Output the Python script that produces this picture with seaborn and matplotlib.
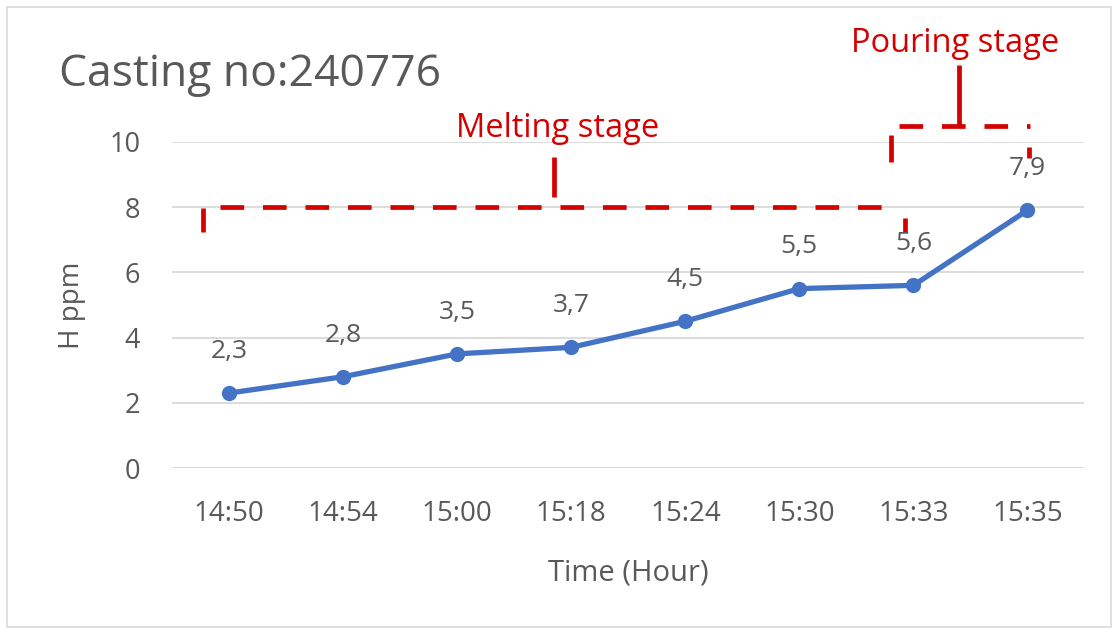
import numpy as np
import pandas as pd
import matplotlib
matplotlib.use("Agg")
import matplotlib.pyplot as plt
from matplotlib.patches import Rectangle
import seaborn as sns

# Hydrogen content measured during one casting
times = ["14:50", "14:54", "15:00", "15:18", "15:24", "15:30", "15:33", "15:35"]
h_ppm = [2.3, 2.8, 3.5, 3.7, 4.5, 5.5, 5.6, 7.9]
value_labels = ["2,3", "2,8", "3,5", "3,7", "4,5", "5,5", "5,6", "7,9"]
y_ticks = [0, 2, 4, 6, 8, 10]

title = "Casting no:240776"
stage_names = ["Melting stage", "Pouring stage"]

sns.set_theme(style="whitegrid")
plt.rcParams["font.family"] = ["Open Sans", "DejaVu Sans"]

GREY = "#595959"
BLUE = "#4472C4"
RED = "#D40000"

fig = plt.figure(figsize=(11.18, 6.3), dpi=100)
ax = fig.add_axes([0.154, 0.257, 0.816, 0.518])

df = pd.DataFrame({"pos": np.arange(len(times)), "h": h_ppm})
sns.lineplot(data=df, x="pos", y="h", ax=ax, color=BLUE, linewidth=3.8,
             marker="o", markersize=11, markeredgewidth=0, sort=False)

for i, (v, lab) in enumerate(zip(h_ppm, value_labels)):
    ax.annotate(lab, (i, v), xytext=(0, 30), textcoords="offset points",
                ha="center", va="center", fontsize=19, color=GREY)

ax.set_xlim(-0.5, len(times) - 0.5)
ax.set_ylim(0, 10)
ax.set_xticks(np.arange(len(times)), labels=times)
ax.set_yticks(y_ticks)
ax.tick_params(axis="both", length=0, labelcolor=GREY)
ax.tick_params(axis="x", pad=23, labelsize=20)
ax.tick_params(axis="y", pad=23, labelsize=19.5)
ax.grid(axis="x", visible=False)
ax.grid(axis="y", color="#D9D9D9", linewidth=1.3)
for s in ax.spines.values():
    s.set_visible(False)
ax.set_xlabel("Time (Hour)", fontsize=21, color=GREY, labelpad=22)
ax.set_ylabel("H ppm", fontsize=20, color=GREY, labelpad=17)

fig.text(0.053, 0.882, title, fontsize=32, color=GREY, ha="left", va="center")

# Stage brackets (dashed red)
dash = dict(color=RED, linewidth=3.4, linestyle=(0, (5, 4)), solid_capstyle="butt",
            dash_capstyle="butt", clip_on=False)
solid = dict(color=RED, linewidth=3.4, solid_capstyle="butt", clip_on=False)

# melting stage
ax.plot([-0.08, 5.87], [8.0, 8.0], **dash)
ax.plot([-0.23, -0.23], [7.98, 7.24], **solid)
ax.plot([5.93, 5.93], [7.67, 7.24], **solid)
ax.plot([2.85, 2.85], [9.54, 8.31], **solid)
ax.text(2.88, 10.4, stage_names[0], fontsize=23.5, color=RED, ha="center", va="center")

# pouring stage
ax.plot([5.87, 7.02], [10.49, 10.49], **dash)
ax.plot([5.80, 5.80], [10.21, 9.39], **solid)
ax.plot([7.01, 7.01], [9.85, 9.51], **solid)
ax.plot([6.40, 6.40], [12.36, 10.49], **solid)
ax.text(6.37, 13.0, stage_names[1], fontsize=23.5, color=RED, ha="center", va="center")

fig.patches.append(Rectangle((0.006, 0.005), 0.988, 0.984, transform=fig.transFigure,
                             fill=False, edgecolor="#D9D9D9", linewidth=1.2))

fig.savefig("out.png", dpi=100)
